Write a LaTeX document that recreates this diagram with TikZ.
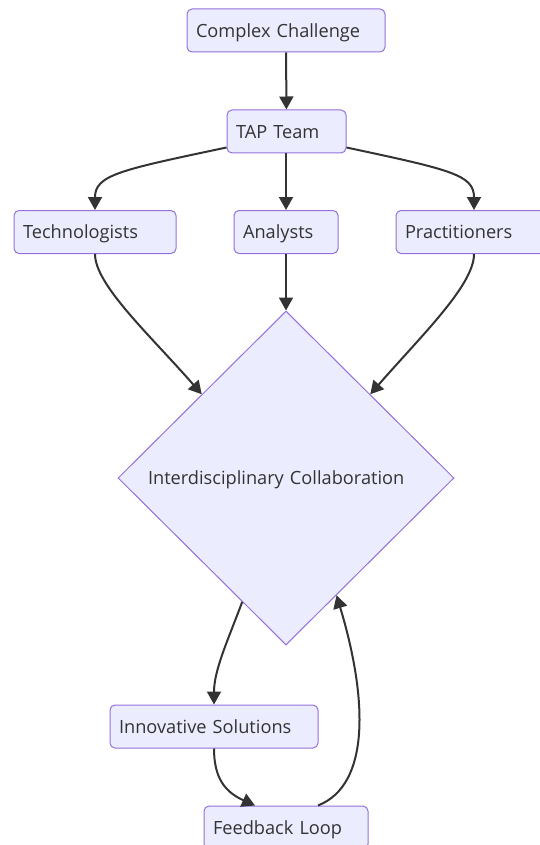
\documentclass[tikz,border=0pt]{standalone}
\usepackage{fontspec}
\setmainfont{Open Sans}
\usetikzlibrary{shapes.geometric, arrows.meta, calc}

\definecolor{boxfill}{HTML}{ECECFF}
\definecolor{boxline}{HTML}{9370DB}
\definecolor{txt}{HTML}{333333}

\tikzset{
    box/.style={draw=boxline, fill=boxfill, line width=1pt, rounded corners=5pt,
        minimum height=43pt, inner xsep=9pt, inner ysep=0pt, align=left, text=txt,
        text height=17.5pt, text depth=4.3pt,
        font=\fontsize{18.2}{22}\selectfont},
    decision/.style={diamond, draw=boxline, fill=boxfill, line width=1pt,
        inner sep=0pt, align=left, text=txt, text height=17.5pt, text depth=4.3pt,
        font=\fontsize{18.2}{22}\selectfont},
    arr/.style={->, line width=2pt, draw=txt},
}

\begin{document}
\begin{tikzpicture}[x=1pt, y=-1pt, >={Triangle[length=13pt, width=14pt]}]
    \useasboundingbox (0,0) rectangle (539,845);

    % 1. Các nút hình chữ nhật
    \node[box, text width=180pt] (chal) at (286,30.5) {Complex Challenge};
    \node[box, text width=101pt] (tap) at (286.5,131.5) {TAP Team};
    \node[box, text width=144pt] (tech) at (95,232) {Technologists};
    \node[box, text width=86pt] (anal) at (286,232) {Analysts};
    \node[box, text width=138pt] (prac) at (474,232) {Practitioners};

    % 2. Nút hình thoi
    \node[decision, minimum width=336pt, minimum height=334pt, text width=276pt]
        (collab) at (286,478) {Interdisciplinary Collaboration};

    \node[box, text width=190pt] (innov) at (214,726.5) {Innovative Solutions};
    \node[box, text width=146pt] (feed) at (286,827.5) {Feedback Loop};

    % 3. Các mũi tên
    \draw[arr] (chal) -- (tap);
    \draw[arr] ([yshift=6pt]tap.south west) .. controls (120,170) and (95,175) .. (tech.north);
    \draw[arr] (tap.south -| anal.north) -- (anal.north);
    \draw[arr] ([yshift=6pt]tap.south east) .. controls (452,170) and (474,175) .. (prac.north);

    % Hội tụ vào hình thoi
    \draw[arr] (tech.south) .. controls (95,285) and (150,335) .. ($(collab.west)!0.5!(collab.north)$);
    \draw[arr] (anal.south) -- (collab.north);
    \draw[arr] (prac.south) .. controls (474,285) and (422,335) .. ($(collab.east)!0.5!(collab.north)$);

    % Vòng phản hồi
    \coordinate (outA) at ($(collab.west)!0.74!(collab.south)$);
    \coordinate (inB) at ($(collab.south)!0.3!(collab.east)$);
    \draw[arr] (outA) .. controls (228,640) and (214,670) .. (innov.north);
    \draw[arr] (innov.south) .. controls (214,778) and (225,792) .. ([xshift=-31pt]feed.north);
    \draw[arr] ([xshift=32pt]feed.north) .. controls (370,785) and (368,700) .. (inB);

\end{tikzpicture}
\end{document}
